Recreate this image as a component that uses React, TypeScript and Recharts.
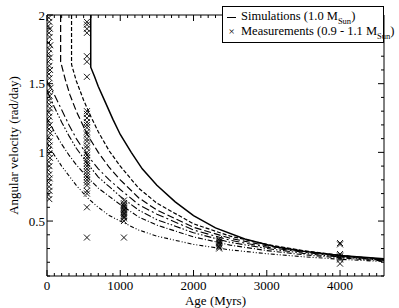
import React from 'react';
import { ComposedChart, Line, Scatter, XAxis, YAxis, Legend, Label, ReferenceLine } from 'recharts';

const FONT = "'Liberation Serif', 'Times New Roman', 'DejaVu Serif', serif";
const AGE_MAX = 4600;
const OMEGA_MIN = 0.1;
const OMEGA_MAX = 2;

const CHART_W = 399;
const CHART_H = 308;
const M_TOP = 15;
const M_RIGHT = 15;
const Y_AXIS_W = 47;
const X_AXIS_H = 32;
const PLOT_TOP = M_TOP;
const PLOT_BOTTOM = CHART_H - X_AXIS_H;
const PLOT_LEFT = Y_AXIS_W;
const PLOT_RIGHT = CHART_W - M_RIGHT;

const ageMajorTicks = [0, 1000, 2000, 3000, 4000];
const ageAllTicks = [0, 100, 200, 300, 400, 500, 600, 700, 800, 900, 1000, 1100, 1200, 1300, 1400, 1500, 1600, 1700, 1800, 1900, 2000, 2100, 2200, 2300, 2400, 2500, 2600, 2700, 2800, 2900, 3000, 3100, 3200, 3300, 3400, 3500, 3600, 3700, 3800, 3900, 4000, 4100, 4200, 4300, 4400, 4500];
const omegaMajorTicks = [0.5, 1, 1.5, 2];
const omegaAllTicks = [0.1, 0.2, 0.3, 0.4, 0.5, 0.6, 0.7, 0.8, 0.9, 1, 1.1, 1.2, 1.3, 1.4, 1.5, 1.6, 1.7, 1.8, 1.9, 2];

// Simulation tracks (age Myr, angular velocity rad/day)
const simSolid = [
  { t: 597, w: 2.0 }, { t: 597, w: 1.62 }, { t: 650, w: 1.55 }, { t: 700, w: 1.48 }, { t: 800, w: 1.36 },
  { t: 900, w: 1.24 }, { t: 1000, w: 1.13 }, { t: 1150, w: 1.0 }, { t: 1300, w: 0.88 }, { t: 1500, w: 0.76 },
  { t: 1750, w: 0.64 }, { t: 2000, w: 0.54 }, { t: 2300, w: 0.45 }, { t: 2700, w: 0.37 }, { t: 3100, w: 0.315 },
  { t: 3500, w: 0.28 }, { t: 4000, w: 0.25 }, { t: 4600, w: 0.225 },
];
const simShortDash = [
  { t: 335, w: 2.0 }, { t: 335, w: 1.64 }, { t: 400, w: 1.52 }, { t: 500, w: 1.38 }, { t: 600, w: 1.26 },
  { t: 700, w: 1.15 }, { t: 850, w: 1.01 }, { t: 1000, w: 0.9 }, { t: 1250, w: 0.74 }, { t: 1500, w: 0.63 },
  { t: 2000, w: 0.48 }, { t: 2500, w: 0.39 }, { t: 3000, w: 0.33 }, { t: 3500, w: 0.285 }, { t: 4000, w: 0.25 },
  { t: 4600, w: 0.222 },
];
const simLongDash = [
  { t: 186, w: 2.0 }, { t: 186, w: 1.66 }, { t: 250, w: 1.53 }, { t: 312, w: 1.42 }, { t: 400, w: 1.3 },
  { t: 550, w: 1.13 }, { t: 700, w: 1.0 }, { t: 850, w: 0.89 }, { t: 1000, w: 0.8 }, { t: 1250, w: 0.67 },
  { t: 1500, w: 0.58 }, { t: 2000, w: 0.455 }, { t: 2500, w: 0.375 }, { t: 3000, w: 0.32 }, { t: 3500, w: 0.28 },
  { t: 4000, w: 0.248 }, { t: 4600, w: 0.22 },
];
const simDashDot = [
  { t: 0, w: 1.52 }, { t: 100, w: 1.42 }, { t: 200, w: 1.31 }, { t: 300, w: 1.2 }, { t: 400, w: 1.1 },
  { t: 550, w: 0.98 }, { t: 700, w: 0.88 }, { t: 850, w: 0.8 }, { t: 1000, w: 0.73 }, { t: 1250, w: 0.62 },
  { t: 1500, w: 0.55 }, { t: 2000, w: 0.435 }, { t: 2500, w: 0.36 }, { t: 3000, w: 0.31 }, { t: 3500, w: 0.273 },
  { t: 4000, w: 0.243 }, { t: 4600, w: 0.217 },
];
const simDashDotDot = [
  { t: 0, w: 1.45 }, { t: 100, w: 1.33 }, { t: 200, w: 1.22 }, { t: 300, w: 1.12 }, { t: 400, w: 1.03 },
  { t: 550, w: 0.92 }, { t: 700, w: 0.82 }, { t: 850, w: 0.75 }, { t: 1000, w: 0.68 }, { t: 1250, w: 0.58 },
  { t: 1500, w: 0.51 }, { t: 2000, w: 0.415 }, { t: 2500, w: 0.345 }, { t: 3000, w: 0.3 }, { t: 3500, w: 0.265 },
  { t: 4000, w: 0.238 }, { t: 4600, w: 0.214 },
];
const simDotDash = [
  { t: 0, w: 1.25 }, { t: 100, w: 1.15 }, { t: 200, w: 1.06 }, { t: 300, w: 0.98 }, { t: 400, w: 0.91 },
  { t: 550, w: 0.82 }, { t: 700, w: 0.74 }, { t: 850, w: 0.68 }, { t: 1000, w: 0.62 }, { t: 1250, w: 0.53 },
  { t: 1500, w: 0.47 }, { t: 2000, w: 0.385 }, { t: 2500, w: 0.325 }, { t: 3000, w: 0.285 }, { t: 3500, w: 0.255 },
  { t: 4000, w: 0.232 }, { t: 4600, w: 0.21 },
];
const simLowest = [
  { t: 0, w: 1.07 }, { t: 100, w: 0.98 }, { t: 200, w: 0.9 }, { t: 300, w: 0.83 }, { t: 400, w: 0.76 },
  { t: 550, w: 0.67 }, { t: 700, w: 0.6 }, { t: 850, w: 0.54 }, { t: 1000, w: 0.5 }, { t: 1250, w: 0.435 },
  { t: 1500, w: 0.39 }, { t: 2000, w: 0.33 }, { t: 2500, w: 0.29 }, { t: 3000, w: 0.262 }, { t: 3500, w: 0.24 },
  { t: 4000, w: 0.222 }, { t: 4600, w: 0.205 },
];

// Measurements
const measYoung = [
  { t: 25, w: 1.98 }, { t: 32, w: 1.95 }, { t: 18, w: 1.92 }, { t: 40, w: 1.9 }, { t: 28, w: 1.87 },
  { t: 35, w: 1.84 }, { t: 20, w: 1.8 }, { t: 45, w: 1.78 }, { t: 30, w: 1.75 }, { t: 22, w: 1.72 },
  { t: 38, w: 1.69 }, { t: 18, w: 1.66 }, { t: 32, w: 1.63 }, { t: 42, w: 1.6 }, { t: 27, w: 1.57 },
  { t: 34, w: 1.54 }, { t: 20, w: 1.5 }, { t: 48, w: 1.47 }, { t: 29, w: 1.44 }, { t: 36, w: 1.41 },
  { t: 22, w: 1.38 }, { t: 31, w: 1.35 }, { t: 40, w: 1.32 }, { t: 24, w: 1.29 }, { t: 33, w: 1.26 },
  { t: 18, w: 1.23 }, { t: 38, w: 1.2 }, { t: 28, w: 1.17 }, { t: 45, w: 1.14 }, { t: 22, w: 1.11 },
  { t: 32, w: 1.08 }, { t: 36, w: 1.05 }, { t: 20, w: 1.02 }, { t: 29, w: 0.99 }, { t: 41, w: 0.96 },
  { t: 24, w: 0.93 }, { t: 33, w: 0.9 }, { t: 18, w: 0.87 }, { t: 30, w: 0.84 }, { t: 37, w: 0.81 },
  { t: 22, w: 0.78 }, { t: 28, w: 0.75 }, { t: 34, w: 0.72 }, { t: 20, w: 0.69 }, { t: 31, w: 0.66 },
];
const measCluster1 = [
  { t: 545, w: 1.95 }, { t: 545, w: 1.93 }, { t: 545, w: 1.9 }, { t: 545, w: 1.87 }, { t: 545, w: 1.7 },
  { t: 545, w: 1.66 }, { t: 545, w: 1.55 }, { t: 545, w: 1.3 }, { t: 545, w: 1.28 }, { t: 545, w: 1.25 },
  { t: 545, w: 1.22 }, { t: 545, w: 1.2 }, { t: 545, w: 1.18 }, { t: 545, w: 1.15 }, { t: 545, w: 1.13 },
  { t: 545, w: 1.1 }, { t: 545, w: 1.08 }, { t: 545, w: 1.05 }, { t: 545, w: 1.03 }, { t: 545, w: 1.0 },
  { t: 545, w: 0.98 }, { t: 545, w: 0.96 }, { t: 545, w: 0.94 }, { t: 545, w: 0.92 }, { t: 545, w: 0.9 },
  { t: 545, w: 0.88 }, { t: 545, w: 0.86 }, { t: 545, w: 0.84 }, { t: 545, w: 0.82 }, { t: 545, w: 0.8 },
  { t: 545, w: 0.78 }, { t: 545, w: 0.76 }, { t: 545, w: 0.72 }, { t: 545, w: 0.7 }, { t: 545, w: 0.6 },
  { t: 545, w: 0.38 },
];
const measCluster2 = [
  { t: 1050, w: 0.65 }, { t: 1050, w: 0.63 }, { t: 1050, w: 0.62 }, { t: 1050, w: 0.61 }, { t: 1050, w: 0.6 },
  { t: 1050, w: 0.59 }, { t: 1050, w: 0.58 }, { t: 1050, w: 0.57 }, { t: 1050, w: 0.56 }, { t: 1050, w: 0.55 },
  { t: 1050, w: 0.54 }, { t: 1050, w: 0.53 }, { t: 1050, w: 0.52 }, { t: 1050, w: 0.5 }, { t: 1050, w: 0.38 },
];
const measCluster3 = [
  { t: 2350, w: 0.37 }, { t: 2350, w: 0.36 }, { t: 2350, w: 0.35 }, { t: 2350, w: 0.34 }, { t: 2350, w: 0.33 },
  { t: 2350, w: 0.32 }, { t: 2350, w: 0.31 }, { t: 2350, w: 0.3 },
];
const measCluster4 = [
  { t: 4000, w: 0.34 }, { t: 4000, w: 0.33 }, { t: 4000, w: 0.26 }, { t: 4000, w: 0.25 }, { t: 4000, w: 0.24 },
  { t: 4000, w: 0.23 }, { t: 4000, w: 0.22 }, { t: 4000, w: 0.19 },
];
const measurements = [...measYoung, ...measCluster1, ...measCluster2, ...measCluster3, ...measCluster4];

const Cross = (props: any) => {
  const { cx, cy } = props;
  if (cx == null || cy == null) return null;
  const s = 3;
  return (
    <path
      d={`M${cx - s},${cy - s}L${cx + s},${cy + s}M${cx + s},${cy - s}L${cx - s},${cy + s}`}
      stroke="#000"
      strokeWidth={0.9}
      fill="none"
    />
  );
};

const XTick = (props: any) => {
  const { x, payload } = props;
  const v = payload.value;
  const major = ageMajorTicks.includes(v);
  const len = major ? 6 : 3;
  return (
    <g>
      <line x1={x} x2={x} y1={PLOT_BOTTOM} y2={PLOT_BOTTOM - len} stroke="#000" strokeWidth={1} />
      <line x1={x} x2={x} y1={PLOT_TOP} y2={PLOT_TOP + len} stroke="#000" strokeWidth={1} />
      {major && (
        <text x={x} y={PLOT_BOTTOM + 14} textAnchor="middle" fontFamily={FONT} fontSize={13} fill="#000">
          {v}
        </text>
      )}
    </g>
  );
};

const YTick = (props: any) => {
  const { y, payload } = props;
  const v = payload.value;
  const major = omegaMajorTicks.includes(v);
  const len = major ? 6 : 3;
  return (
    <g>
      <line x1={PLOT_LEFT} x2={PLOT_LEFT + len} y1={y} y2={y} stroke="#000" strokeWidth={1} />
      <line x1={PLOT_RIGHT} x2={PLOT_RIGHT - len} y1={y} y2={y} stroke="#000" strokeWidth={1} />
      {major && (
        <text x={PLOT_LEFT - 2} y={y + 4.5} textAnchor="end" fontFamily={FONT} fontSize={13} fill="#000">
          {String(v)}
        </text>
      )}
    </g>
  );
};

const subStyle: React.CSSProperties = { fontSize: 8.5, lineHeight: 0, color: '#000', verticalAlign: 'sub' };

const LegendBox = () => (
  <div
    style={{
      border: '1px solid #000',
      background: '#fff',
      fontFamily: FONT,
      fontSize: 12.5,
      lineHeight: '15px',
      padding: '2px 1px 3px 4px',
      width: 162,
      boxSizing: 'border-box',
      color: '#000',
    }}
  >
    <div style={{ whiteSpace: 'nowrap', color: '#000' }}>
      <span style={{ display: 'inline-block', width: 9, borderTop: '1.5px solid #000', verticalAlign: 'middle', marginRight: 5 }} />
      <span>
        Simulations (1.0 M<span style={subStyle}>Sun</span>)
      </span>
    </div>
    <div style={{ whiteSpace: 'nowrap', color: '#000' }}>
      <span style={{ display: 'inline-block', width: 9, textAlign: 'center', marginRight: 5, fontSize: 11 }}>×</span>
      <span>
        Measurements (0.9 - 1.1 M<span style={subStyle}>Sun</span>)
      </span>
    </div>
  </div>
);

export default function App() {
  return (
    <div style={{ position: 'absolute', left: 0, top: 0, width: CHART_W, height: CHART_H, background: '#fff' }}>
      <ComposedChart width={CHART_W} height={CHART_H} margin={{ top: M_TOP, right: M_RIGHT, bottom: 0, left: 0 }}>
        <XAxis
          type="number"
          dataKey="t"
          domain={[0, AGE_MAX]}
          allowDataOverflow
          xAxisId="x"
          height={X_AXIS_H}
          ticks={ageAllTicks}
          interval={0}
          tickLine={false}
          axisLine={{ stroke: '#000' }}
          tick={<XTick />}
        >
          <Label
            content={(p: any) => {
              const vb = p.viewBox || {};
              return (
                <text x={vb.x + vb.width / 2} y={vb.y + 29} textAnchor="middle" fontFamily={FONT} fontSize={13} fill="#000">
                  Age (Myrs)
                </text>
              );
            }}
          />
        </XAxis>
        <YAxis
          type="number"
          domain={[OMEGA_MIN, OMEGA_MAX]}
          allowDataOverflow
          yAxisId="y"
          width={Y_AXIS_W}
          ticks={omegaAllTicks}
          interval={0}
          tickLine={false}
          axisLine={{ stroke: '#000' }}
          tick={<YTick />}
        >
          <Label
            content={(p: any) => {
              const vb = p.viewBox || {};
              const cx = 13;
              const cy = vb.y + vb.height / 2;
              return (
                <text x={cx} y={cy} transform={`rotate(-90 ${cx} ${cy})`} textAnchor="middle" dominantBaseline="central" fontFamily={FONT} fontSize={13} fill="#000">
                  Angular velocity (rad/day)
                </text>
              );
            }}
          />
        </YAxis>

        <ReferenceLine xAxisId="x" yAxisId="y" y={OMEGA_MAX} stroke="#000" strokeWidth={1} ifOverflow="extendDomain" />
        <ReferenceLine xAxisId="x" yAxisId="y" x={AGE_MAX} stroke="#000" strokeWidth={1} ifOverflow="extendDomain" />

        <Scatter xAxisId="x" yAxisId="y" data={measurements} dataKey="w" shape={<Cross />} isAnimationActive={false} legendType="none" />

        <Line xAxisId="x" yAxisId="y" data={simLowest} dataKey="w" type="linear" stroke="#000" strokeWidth={1.1} strokeDasharray="4 2 1 2 1 2" dot={false} isAnimationActive={false} />
        <Line xAxisId="x" yAxisId="y" data={simDotDash} dataKey="w" type="linear" stroke="#000" strokeWidth={1.1} strokeDasharray="5 2 1 2" dot={false} isAnimationActive={false} />
        <Line xAxisId="x" yAxisId="y" data={simDashDotDot} dataKey="w" type="linear" stroke="#000" strokeWidth={1.1} strokeDasharray="7 2 1.5 2 1.5 2" dot={false} isAnimationActive={false} />
        <Line xAxisId="x" yAxisId="y" data={simDashDot} dataKey="w" type="linear" stroke="#000" strokeWidth={1.1} strokeDasharray="8 3 2 3" dot={false} isAnimationActive={false} />
        <Line xAxisId="x" yAxisId="y" data={simLongDash} dataKey="w" type="linear" stroke="#000" strokeWidth={1.2} strokeDasharray="7 3" dot={false} isAnimationActive={false} />
        <Line xAxisId="x" yAxisId="y" data={simShortDash} dataKey="w" type="linear" stroke="#000" strokeWidth={1.2} strokeDasharray="4 2" dot={false} isAnimationActive={false} />
        <Line xAxisId="x" yAxisId="y" data={simSolid} dataKey="w" type="linear" stroke="#000" strokeWidth={1.5} dot={false} isAnimationActive={false} />

        <Legend
          layout="vertical"
          align="center"
          verticalAlign="middle"
          content={() => <LegendBox />}
          wrapperStyle={{ position: 'absolute', left: 222, top: 6, width: 162, margin: 0 }}
        />
      </ComposedChart>
    </div>
  );
}
